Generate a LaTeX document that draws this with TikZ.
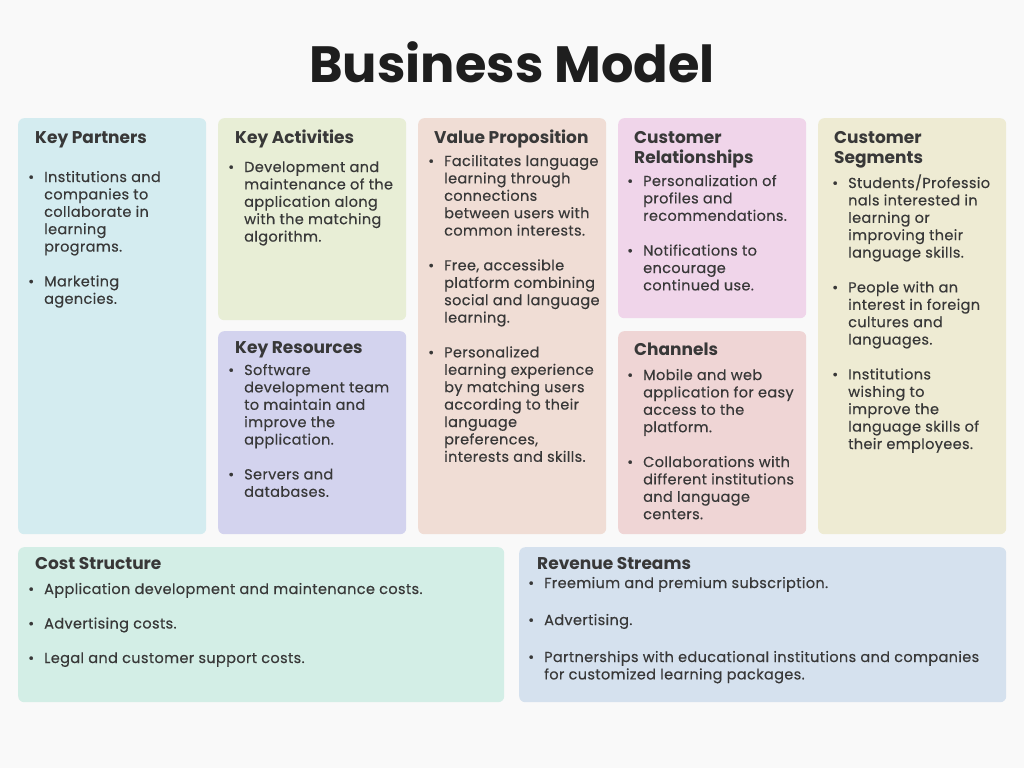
\documentclass[tikz,border=0pt]{standalone}
\usepackage{fontspec}
\setmainfont{Poppins}
\newfontfamily\bodyfont[LetterSpace=2.5,FakeBold=0.35]{Poppins}
\definecolor{pagebg}{HTML}{F9F9F9}
\definecolor{ink}{HTML}{383838}
\definecolor{titleink}{HTML}{1E1E1E}
\definecolor{cPartners}{HTML}{D4ECF0}
\definecolor{cActivities}{HTML}{E8EED6}
\definecolor{cResources}{HTML}{D3D3EE}
\definecolor{cValue}{HTML}{F0DDD5}
\definecolor{cRelations}{HTML}{F0D5EA}
\definecolor{cChannels}{HTML}{EFD5D5}
\definecolor{cSegments}{HTML}{EEEBD3}
\definecolor{cCost}{HTML}{D3EEE6}
\definecolor{cRevenue}{HTML}{D5E1EE}
% bullet and hanging indent for list lines
\newcommand{\B}{\makebox[17pt][l]{\hspace{1pt}\textbullet}}
\newcommand{\I}{\hspace*{17pt}}
\newcommand{\gap}{\\[17.4pt]}
\begin{document}
\begin{tikzpicture}[x=1pt,y=-1pt,
  card/.style={fill=#1, rounded corners=6pt, draw=none, anchor=north west, inner sep=0},
  heading/.style={anchor=base west, inner sep=0, text=ink, font=\fontsize{17}{20}\selectfont\bfseries, align=left},
  body/.style={anchor=base west, inner sep=0, text=ink, font=\bodyfont\fontsize{14.5}{17.4}\selectfont}]
\useasboundingbox (0,0) rectangle (1024,768);
\fill[pagebg] (0,0) rectangle (1024,768);

\node[text=titleink, font=\fontsize{51}{58}\selectfont\bfseries, inner sep=0] (title) at (512,62) {Business Model};

% cards
\node[card=cPartners,   minimum width=188, minimum height=416] (kp) at (18,118) {};
\node[card=cActivities, minimum width=188, minimum height=202] (ka) at (218,118) {};
\node[card=cResources,  minimum width=188, minimum height=203] (kr) at (218,331) {};
\node[card=cValue,      minimum width=188, minimum height=416] (vp) at (418,118) {};
\node[card=cRelations,  minimum width=188, minimum height=200] (cr) at (618,118) {};
\node[card=cChannels,   minimum width=188, minimum height=203] (ch) at (618,331) {};
\node[card=cSegments,   minimum width=188, minimum height=416] (cs) at (818,118) {};
\node[card=cCost,       minimum width=486, minimum height=155] (co) at (18,547) {};
\node[card=cRevenue,    minimum width=487, minimum height=155] (rs) at (519,547) {};

% headings (two-line headings are placed by their last baseline)
\node[heading] (kpT) at (35,143) {Key Partners};
\node[heading] (kaT) at (235,143) {Key Activities};
\node[heading] (krT) at (235,353) {Key Resources};
\node[heading] (vpT) at (434,143) {Value Proposition};
\node[heading] (crT) at (634,163) {Customer\\Relationships};
\node[heading] (chT) at (634,355) {Channels};
\node[heading] (csT) at (834,163) {Customer\\Segments};
\node[heading] (coT) at (35,569) {Cost Structure};
\node[heading] (rsT) at (537,569) {Revenue Streams};

% lists
\node[body] (kpB) at (27,182) {\parbox[t]{178pt}{%
\B Institutions and\\\I companies to\\\I collaborate in\\\I learning\\\I programs.\gap
\B Marketing\\\I agencies.}};

\node[body] (kaB) at (227,172) {\parbox[t]{178pt}{%
\B Development and\\\I maintenance of the\\\I application along\\\I with the matching\\\I algorithm.}};

\node[body] (krB) at (227,375) {\parbox[t]{178pt}{%
\B Software\\\I development team\\\I to maintain and\\\I improve the\\\I application.\gap
\B Servers and\\\I databases.}};

\node[body] (vpB) at (427,166) {\parbox[t]{178pt}{%
\B Facilitates language\\\I learning through\\\I connections\\\I between users with\\\I common interests.\gap
\B Free, accessible\\\I platform combining\\\I social and language\\\I learning.\gap
\B Personalized\\\I learning experience\\\I by matching users\\\I according to their\\\I language\\\I preferences,\\\I interests and skills.}};

\node[body] (crB) at (626,186) {\parbox[t]{178pt}{%
\B Personalization of\\\I profiles and\\\I recommendations.\gap
\B Notifications to\\\I encourage\\\I continued use.}};

\node[body] (chB) at (626,380) {\parbox[t]{178pt}{%
\B Mobile and web\\\I application for easy\\\I access to the\\\I platform.\gap
\B Collaborations with\\\I different institutions\\\I and language\\\I centers.}};

\node[body] (csB) at (831,188) {\parbox[t]{175pt}{%
\B Students/Professio\\\I nals interested in\\\I learning or\\\I improving their\\\I language skills.\gap
\B People with an\\\I interest in foreign\\\I cultures and\\\I languages.\gap
\B Institutions\\\I wishing to\\\I improve the\\\I language skills of\\\I their employees.}};

\node[body] (coB) at (27,594) {\parbox[t]{470pt}{%
\B Application development and maintenance costs.\\[17.1pt]
\B Advertising costs.\\[17.1pt]
\B Legal and customer support costs.}};

\node[body] (rsB) at (527,588) {\parbox[t]{470pt}{%
\B Freemium and premium subscription.\\[19.6pt]
\B Advertising.\\[19.6pt]
\B Partnerships with educational institutions and companies\\\I for customized learning packages.}};
\end{tikzpicture}
\end{document}
